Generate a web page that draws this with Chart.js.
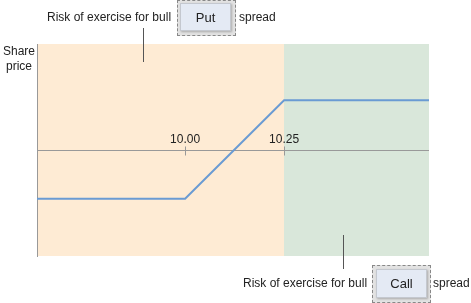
<!DOCTYPE html>
<html>
<head>
<meta charset="utf-8">
<script src="https://cdn.jsdelivr.net/npm/chart.js@4.4.1/dist/chart.umd.min.js"></script>
<style>
    body { margin: 0; background: #fff; font-family: "Liberation Sans", Arial, sans-serif; }
    #wrap { position: relative; width: 471px; height: 303px; }
    #chart { position: absolute; left: 0; top: 0; }
    .lbl { position: absolute; font-size: 12px; color: #222; white-space: nowrap; line-height: 14px; }
    .focus { position: absolute; border: 1px dashed #888; background: #e2e2e2; box-sizing: border-box; }
    .btn { position: absolute; background: #e4eaf4; border: 1px solid #c4c8cf; box-shadow: 1px 1px 2px rgba(0,0,0,0.25);
           box-sizing: border-box; font-size: 13px; color: #222; text-align: center; }
</style>
</head>
<body>
<div id="wrap">
    <canvas id="chart" width="471" height="303"></canvas>
    <div class="lbl" style="left:3px; top:44px; text-align:right; width:29px; line-height:15px;">Share<br>price</div>

    <div class="lbl" style="left:47px; top:10px;">Risk of exercise for bull</div>
    <div class="focus" style="left:177px; top:0px; width:59px; height:36px;"></div>
    <div class="btn" style="left:180px; top:3px; width:51px; height:28px; line-height:27px;">Put</div>
    <div class="lbl" style="left:239px; top:10px;">spread</div>

    <div class="lbl" style="left:243px; top:276px;">Risk of exercise for bull</div>
    <div class="focus" style="left:372px; top:265px; width:59px; height:38px;"></div>
    <div class="btn" style="left:376px; top:269px; width:51px; height:29px; line-height:28px;">Call</div>
    <div class="lbl" style="left:433px; top:276px;">spread</div>
</div>

<script>
//Daten des Diagramms
let strikePrices = [9.626, 10.00, 10.25, 10.616];   //x-Werte (Aktienkurs)
let payoffValues = [-0.46, -0.46, 0.47, 0.47];       //y-Werte (Gewinn/Verlust)
let tickValues = [10.00, 10.25];
let tickLabels = ["10.00", "10.25"];

//Grenze zwischen Put- und Call-Bereich
let zoneLimit = 10.25;

//Leader-Linien der Beschriftungen (x-Wert)
let putLeaderX = 9.894;
let callLeaderX = 10.399;

//Plugin für Hintergrundflächen, Achsen und Beschriftungslinien
const decoPlugin = {
    id: 'deco',
    beforeDatasetsDraw(chart) {
        const ctx = chart.ctx;
        const area = chart.chartArea;
        const xs = chart.scales.x;
        const ys = chart.scales.y;
        let splitX = Math.round(xs.getPixelForValue(zoneLimit));

        ctx.save();
        ctx.fillStyle = '#feebd4';
        ctx.fillRect(area.left, area.top, splitX - area.left, area.bottom - area.top);
        ctx.fillStyle = '#d9e7da';
        ctx.fillRect(splitX, area.top, area.right - splitX, area.bottom - area.top);

        //Achsen
        let zeroY = Math.round(ys.getPixelForValue(0)) + 0.5;
        ctx.strokeStyle = '#999';
        ctx.lineWidth = 1;
        ctx.beginPath();
        ctx.moveTo(area.left + 0.5, area.top);
        ctx.lineTo(area.left + 0.5, area.bottom + 1);
        ctx.moveTo(area.left, zeroY);
        ctx.lineTo(area.right, zeroY);
        tickValues.forEach(function (v) {
            let px = Math.round(xs.getPixelForValue(v)) + 0.5;
            ctx.moveTo(px, zeroY - 4);
            ctx.lineTo(px, zeroY + 5);
        });
        ctx.stroke();

        ctx.fillStyle = '#222';
        ctx.font = '12px "Liberation Sans", Arial, sans-serif';
        ctx.textAlign = 'center';
        ctx.textBaseline = 'alphabetic';
        tickValues.forEach(function (v, i) {
            ctx.fillText(tickLabels[i], xs.getPixelForValue(v), zeroY - 8);
        });

        //Leader-Linien
        ctx.strokeStyle = '#555';
        ctx.beginPath();
        let px1 = Math.round(xs.getPixelForValue(putLeaderX)) + 0.5;
        ctx.moveTo(px1, 28);
        ctx.lineTo(px1, 62);
        let px2 = Math.round(xs.getPixelForValue(callLeaderX)) + 0.5;
        ctx.moveTo(px2, 235);
        ctx.lineTo(px2, 269);
        ctx.stroke();
        ctx.restore();
    }
};

function buildChart() {
    let points = strikePrices.map(function (x, i) {
        return { x: x, y: payoffValues[i] };
    });

    const config = {
        type: 'line',
        data: {
            datasets: [{
                data: points,
                borderColor: '#6a9bd3',
                borderWidth: 2,
                pointRadius: 0,
                tension: 0
            }]
        },
        options: {
            responsive: false,
            animation: false,
            layout: { padding: { left: 37, top: 44, right: 42, bottom: 47 } },
            plugins: { legend: { display: false }, tooltip: { enabled: false } },
            scales: {
                x: { type: 'linear', min: 9.626, max: 10.616, display: false },
                y: { min: -1, max: 1, display: false }
            }
        },
        plugins: [decoPlugin]
    };

    new Chart(document.getElementById('chart'), config);
}

buildChart();
</script>
</body>
</html>
